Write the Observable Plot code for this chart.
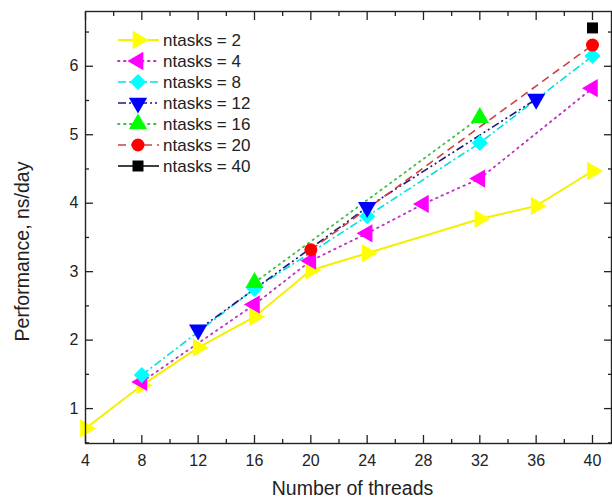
<!DOCTYPE html>
<html><head><meta charset="utf-8">
<script src="https://cdn.jsdelivr.net/npm/d3@7"></script>
<script src="https://cdn.jsdelivr.net/npm/@observablehq/plot@0.6"></script>
<style>
body{margin:0;background:#fff;font-family:"Liberation Sans",Arial,sans-serif;}
#wrap{position:relative;width:612px;height:501px;}
#legend{position:absolute;left:112px;top:28px;}
</style></head>
<body><div id="wrap"></div>
<script>
// ---- data ----
const seriesNames = ["ntasks = 2","ntasks = 4","ntasks = 8","ntasks = 12","ntasks = 16","ntasks = 20","ntasks = 40"];
const threads2 = [4,8,12,16,20,24,32,36,40];
const perf2    = [0.71,1.34,1.89,2.34,3.02,3.27,3.77,3.96,4.47];
const threads4 = [8,16,20,24,28,32,40];
const perf4    = [1.39,2.52,3.16,3.56,3.99,4.36,5.68];
const threads8 = [8,16,24,32,40];
const perf8    = [1.49,2.75,3.81,4.88,6.15];
const threads12 = [12,24,36];
const perf12    = [2.15,3.94,5.52];
const threads16 = [16,32];
const perf16    = [2.84,5.25];
const threads20 = [20,40];
const perf20    = [3.32,6.31];
const threads40 = [40];
const perf40    = [6.56];
const xTicks = [4,8,12,16,20,24,28,32,36,40];
const xMinor = [6,10,14,18,22,26,30,34,38];
const yTicks = [1,2,3,4,5,6];
const yMinor = [0.5,1.5,2.5,3.5,4.5,5.5,6.5];

const styles = [
  {fill:"#ffff00", line:"#f4f000", dash:null, symbol:"triangle", rotate:90, width:2, r:6.8},
  {fill:"#ff00ff", line:"#c030c0", dash:"1.5,4.5", symbol:"triangle", rotate:-90, width:1.8, r:6.8},
  {fill:"#00ffff", line:"#00e0e0", dash:"8,3,2,3", symbol:"diamond2", rotate:0, width:1.6, r:7.3},
  {fill:"#0000ff", line:"#1a1a7a", dash:"8,3,2,3,2,3", symbol:"triangle", rotate:180, width:1.6, r:6.8},
  {fill:"#00ff00", line:"#40c040", dash:"1.5,4.5", symbol:"triangle", rotate:0, width:1.8, r:6.8},
  {fill:"#ff0000", line:"#d04040", dash:"8,5", symbol:"circle", rotate:0, width:1.6, r:6.5},
  {fill:"#000000", line:"#000000", dash:null, symbol:"square", rotate:0, width:1.6, r:6.2}
];
const xs = [threads2,threads4,threads8,threads12,threads16,threads20,threads40];
const ys = [perf2,perf4,perf8,perf12,perf16,perf20,perf40];
const series = seriesNames.map((name,i)=>({name, ...styles[i], data: xs[i].map((x,j)=>({x, y: ys[i][j]}))}));
const cap = s => s.dash && s.dash.startsWith("1.5") ? "round" : "butt";

const font = '"Liberation Sans",Arial,sans-serif';
const marks = [];
for (const s of series) {
  marks.push(Plot.line(s.data, {x:"x", y:"y", stroke:s.line, strokeWidth:s.width, strokeDasharray:s.dash, strokeLinecap: cap(s)}));
}
for (const s of series) {
  marks.push(Plot.dot(s.data, {x:"x", y:"y", fill:s.fill, symbol:s.symbol, r:s.r, rotate:s.rotate}));
}
const noText = () => "";

const chart = Plot.plot({
  width:612, height:501,
  marginLeft:85, marginRight:1, marginTop:11, marginBottom:58,
  style:{fontFamily:font, color:"#222", background:"#fff"},
  x:{domain:[4,41.35]},
  y:{domain:[0.49,6.8]},
  marks:[
    ...marks,
    Plot.frame({stroke:"#222", strokeWidth:1.4}),
    Plot.axisX(xTicks, {tickSize:-8, tickPadding:19, fontSize:16, label:null, strokeWidth:1.3}),
    Plot.axisX(xMinor, {tickSize:-4, tickFormat:noText, label:null, strokeWidth:1.3}),
    Plot.axisX(xTicks, {anchor:"top", tickSize:-8, tickFormat:noText, label:null, strokeWidth:1.3}),
    Plot.axisX(xMinor, {anchor:"top", tickSize:-4, tickFormat:noText, label:null, strokeWidth:1.3}),
    Plot.axisY(yTicks, {tickSize:-8, tickPadding:15, fontSize:16, tickFormat:d=>String(d), label:null, strokeWidth:1.3}),
    Plot.axisY(yMinor, {tickSize:-4, tickFormat:noText, label:null, strokeWidth:1.3}),
    Plot.axisY(yTicks, {anchor:"right", tickSize:-8, tickFormat:noText, label:null, strokeWidth:1.3}),
    Plot.axisY(yMinor, {anchor:"right", tickSize:-4, tickFormat:noText, label:null, strokeWidth:1.3}),
    Plot.text(["Number of threads"], {frameAnchor:"bottom", textAnchor:"middle", dx:4, dy:51, fontSize:19.5, fill:"#222"}),
    Plot.text(["Performance, ns/day"], {frameAnchor:"left", textAnchor:"middle", rotate:-90, dx:-63, dy:24, fontSize:19.5, fill:"#222"})
  ]
});
const wrap = document.getElementById("wrap");
wrap.appendChild(chart);

// ---- legend ----
const leg = d3.select(wrap).append("svg").attr("id","legend").attr("width",200).attr("height",150);
series.forEach((s,i)=>{
  const g = leg.append("g").attr("transform",`translate(0,${12+21*i})`);
  g.append("line").attr("x1",6).attr("x2",47).attr("y1",0).attr("y2",0)
    .attr("stroke",s.line).attr("stroke-width",s.width).attr("stroke-dasharray",s.dash)
    .attr("stroke-linecap", cap(s));
  const sym = {triangle:d3.symbolTriangle, diamond2:d3.symbolDiamond2, circle:d3.symbolCircle, square:d3.symbolSquare}[s.symbol];
  g.append("path").attr("d", d3.symbol(sym, s.r*s.r*Math.PI)()).attr("fill",s.fill)
    .attr("transform",`translate(26,0) rotate(${s.rotate})`);
  g.append("text").attr("x",51).attr("y",0).attr("dy","0.36em").attr("font-size",17)
    .attr("font-family",font).attr("fill","#222").text(s.name);
});
</script></body></html>
